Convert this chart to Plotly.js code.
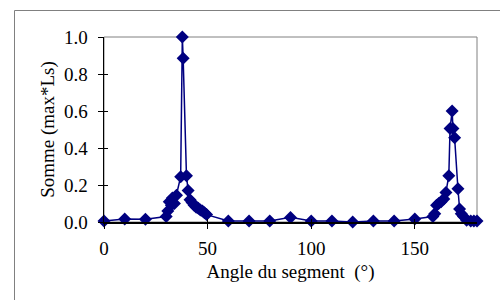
<!DOCTYPE html>
<html>
<head>
<meta charset="utf-8">
<script src="https://cdn.plot.ly/plotly-3.0.1.min.js"></script>
<style>html,body{margin:0;padding:0;background:#fff}#chart{width:500px;height:300px}</style>
</head>
<body>
<div id="chart"></div>
<script>
// Angle du segment (°)
const angles = [0, 10, 20, 30, 30.8, 31.5, 32.5, 33, 34, 35, 37, 37.8, 38.2, 39.8, 40.6, 41.5, 42.5, 43.5, 44.5, 45.5, 46.5, 47.5, 48.5, 49.5,
  60, 70, 80, 90, 100, 110, 120, 130, 140, 150,
  158.7, 159.6, 160.5, 161.5, 162.7, 164, 165, 166.4, 167, 168, 168.4, 169.2, 170.8, 171.6, 172.4, 173.5, 175, 177, 178.5, 180];
// Somme (max*Ls)
const somme = [0.005, 0.016, 0.015, 0.03, 0.06, 0.11, 0.09, 0.13, 0.1, 0.145, 0.245, 1.0, 0.885, 0.25, 0.17, 0.12, 0.105, 0.09, 0.08, 0.075, 0.065, 0.06, 0.05, 0.04,
  0.005, 0.005, 0.005, 0.025, 0.005, 0.005, 0.0, 0.005, 0.005, 0.016,
  0.03, 0.045, 0.09, 0.1, 0.11, 0.125, 0.16, 0.25, 0.505, 0.6, 0.505, 0.455, 0.18, 0.07, 0.045, 0.03, 0.01, 0.005, 0.005, 0.005];
const xTicks = [0, 50, 100, 150];
const yTicks = [0, 0.2, 0.4, 0.6, 0.8, 1.0];

const serif = 'Liberation Serif, Times New Roman, serif';
const L = 104, R = 23, T = 37, B = 78;
const pw = 500 - L - R, ph = 300 - T - B;
const px2x = p => (p - L) / pw;
const py2y = p => (300 - B - p) / ph;

const trace = {
  x: angles, y: somme, type: 'scatter', mode: 'lines+markers',
  line: {color: '#000080', width: 1.5},
  marker: {symbol: 'diamond', size: 10, color: '#000080'},
  cliponaxis: false, showlegend: false
};

const axBase = {showgrid: false, zeroline: false, showline: true, linecolor: '#000', linewidth: 1.5,
  ticks: 'outside', ticklen: 5, tickwidth: 1, tickcolor: '#000',
  tickfont: {family: serif, size: 19, color: '#000'}};

const layout = {
  width: 500, height: 300,
  margin: {l: L, r: R, t: T, b: B},
  paper_bgcolor: '#fff', plot_bgcolor: '#fff',
  xaxis: Object.assign({}, axBase, {range: [0, 180], tickvals: xTicks, ticktext: xTicks.map(String),
    ticklabelstandoff: 4,
    title: {text: 'Angle du segment  (°)', font: {family: serif, size: 19, color: '#000'}, standoff: 6}}),
  yaxis: Object.assign({}, axBase, {range: [0, 1], tickvals: yTicks, ticktext: yTicks.map(v => v.toFixed(1)),
    ticklabelstandoff: 6,
    title: {text: 'Somme (max*Ls)', font: {family: serif, size: 19, color: '#000'}, standoff: 4}}),
  xaxis2: {overlaying: 'x', range: [0, 180], tickvals: xTicks, showticklabels: false, ticks: 'inside', ticklen: 3,
    tickcolor: '#000', showgrid: false, zeroline: false, showline: false},
  yaxis2: {overlaying: 'y', range: [0, 1], tickvals: yTicks, showticklabels: false, ticks: 'inside', ticklen: 4,
    tickcolor: '#000', showgrid: false, zeroline: false, showline: false},
  shapes: [
    {type: 'rect', xref: 'paper', yref: 'paper', x0: 0, x1: 1, y0: 0, y1: 1,
      line: {color: '#808080', width: 1}, layer: 'below'},
    {type: 'rect', xref: 'paper', yref: 'paper', x0: px2x(14.5), x1: px2x(520), y0: py2y(10.5), y1: py2y(320),
      line: {color: '#808080', width: 1}, layer: 'below'}
  ]
};

const dummy = {x: [0], y: [0], xaxis: 'x2', yaxis: 'y2', mode: 'markers', marker: {opacity: 0}, hoverinfo: 'skip', showlegend: false};

Plotly.newPlot('chart', [dummy, trace], layout, {staticPlot: true, displayModeBar: false});
</script>
</body>
</html>
